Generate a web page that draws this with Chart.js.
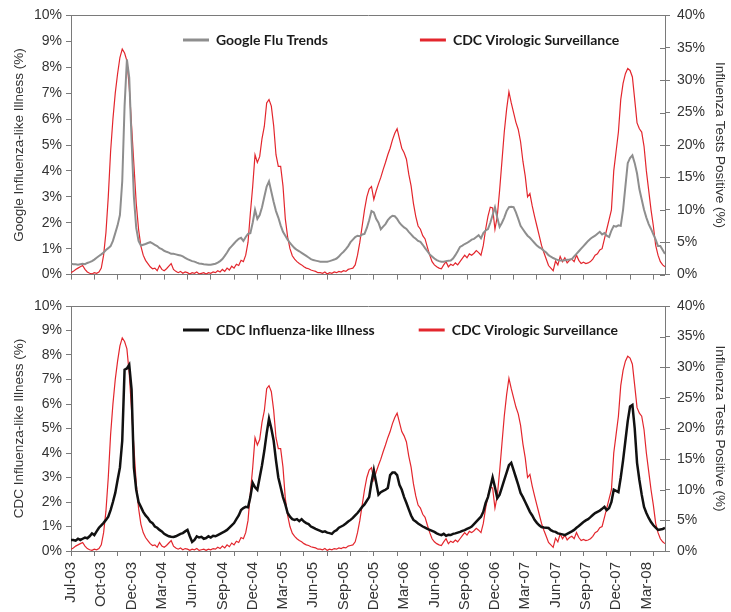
<!DOCTYPE html>
<html>
<head>
<meta charset="utf-8">
<script src="https://cdn.jsdelivr.net/npm/chart.js@4.4.1/dist/chart.umd.min.js"></script>
<style>
  body { margin: 0; background: #fff; }
  canvas { display: block; }
</style>
</head>
<body>
<canvas id="topChart" width="731" height="290"></canvas>
<canvas id="bottomChart" width="731" height="322"></canvas>
<script>
// weekly series, Jul 2003 - May 2008
const tickLabels = ['Jul-03', 'Oct-03', 'Dec-03', 'Mar-04', 'Jun-04', 'Sep-04', 'Dec-04', 'Mar-05', 'Jun-05', 'Sep-05',
    'Dec-05', 'Mar-06', 'Jun-06', 'Sep-06', 'Dec-06', 'Mar-07', 'Jun-07', 'Sep-07', 'Dec-07', 'Mar-08'];

// Google Flu Trends, ILI %
const googleFlu = [
    0.42, 0.40, 0.40, 0.38, 0.40, 0.42, 0.40, 0.45, 0.48, 0.52, 0.58, 0.65, 0.72, 0.78, 0.85, 0.95,
    1.02, 1.1, 1.3, 1.6, 1.9, 2.3, 3.6, 6.5, 8.3, 7.6, 5.2, 3.0, 1.8, 1.3, 1.12, 1.15,
    1.18, 1.22, 1.25, 1.2, 1.15, 1.1, 1.02, 0.98, 0.92, 0.88, 0.85, 0.8, 0.8, 0.78, 0.76, 0.74,
    0.7, 0.65, 0.6, 0.56, 0.52, 0.5, 0.46, 0.43, 0.42, 0.4, 0.39, 0.38, 0.38, 0.4, 0.42, 0.46,
    0.52, 0.6, 0.72, 0.85, 1.0, 1.1, 1.2, 1.3, 1.38, 1.42, 1.3, 1.45, 1.57, 1.6, 2.0, 2.5,
    2.15, 2.3, 2.6, 3.0, 3.4, 3.6, 3.2, 2.8, 2.45, 2.2, 1.9, 1.65, 1.5, 1.35, 1.22, 1.12,
    1.02, 0.95, 0.9, 0.84, 0.78, 0.72, 0.66, 0.6, 0.56, 0.54, 0.52, 0.5, 0.5, 0.5, 0.5, 0.52,
    0.55, 0.58, 0.62, 0.7, 0.8, 0.88, 0.98, 1.1, 1.25, 1.35, 1.45, 1.5, 1.48, 1.55, 1.57, 1.8,
    2.1, 2.45, 2.4, 2.15, 2.0, 1.75, 1.85, 1.95, 2.1, 2.2, 2.27, 2.25, 2.15, 2.0, 1.9, 1.82,
    1.76, 1.65, 1.55, 1.45, 1.38, 1.3, 1.26, 1.15, 1.02, 0.9, 0.78, 0.7, 0.62, 0.56, 0.52, 0.5,
    0.5, 0.52, 0.53, 0.54, 0.62, 0.75, 0.9, 1.07, 1.12, 1.18, 1.22, 1.28, 1.35, 1.38, 1.45, 1.52,
    1.4, 1.6, 1.7, 1.76, 2.0, 2.3, 2.6, 2.2, 1.84, 2.0, 2.2, 2.45, 2.6, 2.62, 2.6, 2.4,
    2.15, 1.88, 1.75, 1.62, 1.5, 1.42, 1.32, 1.22, 1.12, 1.05, 1.0, 0.92, 0.85, 0.75, 0.69, 0.64,
    0.6, 0.56, 0.54, 0.54, 0.55, 0.57, 0.58, 0.6, 0.7, 0.8, 0.9, 1.0, 1.1, 1.2, 1.3, 1.38,
    1.45, 1.5, 1.58, 1.65, 1.55, 1.6, 1.5, 1.45, 1.7, 1.88, 1.85, 1.9, 1.88, 2.5, 3.4, 4.3,
    4.5, 4.6, 4.3, 3.9, 3.3, 2.9, 2.5, 2.2, 1.95, 1.76, 1.55, 1.35, 1.1, 1.1, 0.95, 0.8
];

// CDC virologic surveillance, % of tests positive
const virologic = [
    0.3, 0.5, 0.8, 1.0, 1.2, 1.4, 0.8, 0.4, 0.2, 0.1, 0.3, 0.2, 0.4, 1.0, 3.0, 6.5,
    12, 19, 24, 28, 31, 33.5, 34.8, 34.2, 33, 29, 23, 17, 11, 7, 4.4, 3.0,
    2.2, 1.7, 1.2, 0.9, 1.0, 0.6, 1.4, 0.8, 0.6, 0.9, 1.3, 1.7, 0.8, 0.5, 0.3, 0.5,
    0.2, 0.4, 0.3, 0.1, 0.3, 0.2, 0.4, 0.1, 0.2, 0.3, 0.1, 0.3, 0.2, 0.4, 0.3, 0.6,
    0.4, 0.8, 0.5, 1.0, 0.7, 1.3, 1.0, 1.6, 1.4, 2.2, 2.0, 3.0, 5.0, 9.5, 13.6, 18.5,
    17.3, 18.2, 21, 22.9, 26.5, 27, 26, 23, 18.5, 16.7, 16.7, 13.7, 8.6, 5.8, 4.0, 2.9,
    2.4, 2.0, 1.7, 1.5, 1.2, 1.0, 0.9, 0.7, 0.6, 0.5, 0.3, 0.3, 0.2, 0.4, 0.1, 0.3,
    0.2, 0.4, 0.3, 0.5, 0.4, 0.6, 0.5, 0.8, 0.9, 1.0, 1.5, 3.0, 5.0, 7.5, 10, 12,
    13.2, 13.6, 11.6, 12.9, 14, 15, 16.2, 17.3, 18.5, 19.5, 20.8, 21.8, 22.5, 21, 19.5, 18.8,
    17.8, 15.5, 13.7, 11, 9.0, 7.5, 7.0, 6.0, 5.5, 4.2, 3.0, 2.0, 1.5, 1.2, 1.0, 0.9,
    1.5, 2.0, 1.2, 1.6, 1.4, 1.8, 1.5, 2.0, 2.5, 3.0, 2.6, 3.2, 3.0, 3.3, 3.7, 3.4,
    3.0, 4.5, 7.0, 9.0, 10.4, 10.3, 7.0, 9.0, 13, 17.5, 22, 25.5, 28.2, 26.5, 25, 23.5,
    22.4, 20.5, 17.5, 15.2, 12.0, 12.5, 10.6, 9.0, 7.5, 6.0, 4.5, 3.4, 2.4, 1.4, 1.0, 0.6,
    2.1, 1.5, 2.8, 2.0, 2.6, 1.8, 2.2, 2.4, 2.0, 3.0, 2.2, 1.7, 1.9, 1.7, 1.8, 2.0,
    2.4, 3.0, 3.2, 3.8, 4.0, 5.5, 7.0, 8.5, 10, 16, 19, 22, 27, 29.5, 31, 31.8,
    31.5, 30.5, 27, 23.4, 22.5, 22, 19.8, 16, 13, 10, 7.5, 4.5, 3.0, 2.0, 1.5, 1.2
];

// CDC influenza-like illness, %
const cdcIli = [
    0.45, 0.45, 0.42, 0.5, 0.45, 0.5, 0.55, 0.52, 0.6, 0.72, 0.65, 0.8, 0.95, 1.05, 1.15, 1.27,
    1.4, 1.67, 2.0, 2.37, 2.9, 3.4, 4.5, 7.4, 7.45, 7.6, 6.6, 3.4, 2.5, 2.0, 1.8, 1.6,
    1.45, 1.35, 1.2, 1.14, 1.0, 0.95, 0.86, 0.8, 0.7, 0.65, 0.6, 0.58, 0.57, 0.6, 0.65, 0.7,
    0.73, 0.8, 0.86, 0.6, 0.37, 0.45, 0.6, 0.55, 0.58, 0.5, 0.53, 0.6, 0.55, 0.62, 0.6, 0.65,
    0.7, 0.75, 0.8, 0.86, 0.95, 1.05, 1.14, 1.3, 1.45, 1.67, 1.75, 1.8, 1.78, 2.2, 2.78, 2.6,
    2.5, 3.0, 3.5, 4.1, 4.8, 5.4, 5.0, 4.5, 3.7, 3.0, 2.6, 2.2, 1.9, 1.55, 1.4, 1.3,
    1.27, 1.3, 1.22, 1.3, 1.2, 1.14, 1.1, 1.0, 0.95, 0.9, 0.86, 0.82, 0.78, 0.8, 0.75, 0.73,
    0.7, 0.8, 0.85, 0.95, 1.0, 1.05, 1.12, 1.2, 1.27, 1.35, 1.45, 1.55, 1.67, 1.8, 1.9, 2.05,
    2.2, 2.8, 3.3, 2.8, 2.3, 2.4, 2.45, 2.5, 2.57, 3.1, 3.2, 3.2, 3.1, 2.7, 2.5, 2.2,
    1.96, 1.7, 1.45, 1.27, 1.2, 1.12, 1.06, 1.0, 0.95, 0.9, 0.86, 0.82, 0.78, 0.72, 0.68, 0.65,
    0.7, 0.62, 0.66, 0.65, 0.7, 0.72, 0.75, 0.78, 0.82, 0.85, 0.9, 0.94, 1.0, 1.1, 1.2, 1.3,
    1.4, 1.6, 1.96, 2.2, 2.6, 3.0, 2.6, 2.16, 2.3, 2.6, 2.9, 3.2, 3.5, 3.6, 3.3, 3.0,
    2.7, 2.37, 2.2, 2.0, 1.8, 1.6, 1.45, 1.27, 1.15, 1.05, 0.98, 0.96, 0.95, 0.94, 0.85, 0.8,
    0.78, 0.72, 0.7, 0.68, 0.65, 0.7, 0.75, 0.8, 0.86, 0.95, 1.02, 1.1, 1.18, 1.25, 1.3, 1.38,
    1.47, 1.55, 1.6, 1.65, 1.72, 1.8, 1.67, 1.75, 2.0, 2.5, 2.45, 2.4, 3.0, 3.7, 4.5, 5.3,
    5.9, 5.96, 5.0, 3.6, 2.9, 2.3, 1.8, 1.55, 1.35, 1.18, 1.05, 0.95, 0.86, 0.88, 0.9, 0.94
];

const weeks = virologic.map((_, i) => i);
const LABEL_EVERY = 13;   // a date label every 13 weeks
const TICK_EVERY = 10;    // a tick mark every 10 weeks

const AXIS = '#7a7a7a';
const GRAY = '#8e8e8e';
const RED = '#e3262d';
const BLACK = '#111111';

Chart.defaults.font.family = '"Liberation Sans", Arial, sans-serif';
Chart.defaults.font.size = 14;
Chart.defaults.color = '#333';

// put the legend inside the plot, both entries on one line
function legendSpot(firstX, centerY) {
    return {
        id: 'legendSpot',
        afterLayout(chart) {
            const lg = chart.legend;
            const pad = lg.options.labels.padding;
            lg.maxHeight = 20;   // one entry per column -> entries side by side
            lg.fit();
            lg.left = firstX - pad;
            lg.right = chart.width;
            lg.top = centerY - 7 - pad;
            lg.bottom = lg.top + 2 * pad + 30;
        }
    };
}

// right axis ticks cross the axis line
const crossTicks = {
    id: 'crossTicks',
    afterDraw(chart) {
        const s = chart.scales.y1;
        const ctx = chart.ctx;
        ctx.save();
        ctx.strokeStyle = AXIS;
        ctx.lineWidth = 1;
        s.ticks.forEach(t => {
            const y = Math.round(s.getPixelForValue(t.value)) + 0.5;
            ctx.beginPath();
            ctx.moveTo(s.left - 5, y);
            ctx.lineTo(s.left, y);
            ctx.stroke();
        });
        ctx.restore();
    }
};

function buildScales(leftTitle, withDates) {
    const scales = {
        x: {
            type: 'linear', position: 'bottom', min: 0, max: weeks.length - 1,
            ticks: { display: false, stepSize: TICK_EVERY, autoSkip: false, includeBounds: false },
            grid: { drawOnChartArea: false, tickLength: 5, color: AXIS },
            border: { color: AXIS },
            afterFit: s => { s.height = withDates ? 5 : 14; }
        },
        xTop: {
            type: 'linear', position: 'top', min: 0, max: weeks.length - 1,
            ticks: { display: false },
            grid: { display: false, drawTicks: false },
            border: { color: AXIS },
            afterFit: s => { s.height = 0; }
        },
        y: {
            position: 'left', min: 0, max: 10,
            ticks: { stepSize: 1, padding: 4, callback: v => v + '%' },
            grid: { drawOnChartArea: false, tickLength: 5, color: AXIS },
            border: { color: AXIS },
            title: { display: true, text: leftTitle, font: { size: 13.5 }, padding: { top: 11, bottom: 0 } },
            afterFit: s => { s.width = 71; }
        },
        y1: {
            position: 'right', min: 0, max: 40,
            ticks: { stepSize: 5, padding: 7, callback: v => v + '%' },
            grid: { drawOnChartArea: false, tickLength: 5, color: AXIS },
            border: { color: AXIS },
            title: { display: true, text: 'Influenza Tests Positive (%)', font: { size: 13.5 }, padding: { top: 3, bottom: 0 } },
            afterFit: s => { s.width = 66; }
        }
    };
    if (withDates) {
        scales.xl = {
            type: 'linear', position: 'bottom', min: 0, max: weeks.length - 1,
            ticks: {
                stepSize: LABEL_EVERY, autoSkip: false, includeBounds: false,
                minRotation: 90, maxRotation: 90, padding: 6, font: { size: 15 },
                callback: (v, i) => tickLabels[i]
            },
            grid: { display: false, drawTicks: false },
            border: { display: false },
            afterFit: s => { s.height = 56; }
        };
    }
    return scales;
}

function makeChart(id, datasets, leftTitle, withDates, padTop, legendPad) {
    const ctx = document.getElementById(id).getContext('2d');
    return new Chart(ctx, {
        type: 'line',
        data: { labels: weeks, datasets: datasets },
        options: {
            responsive: false,
            animation: false,
            layout: { padding: { top: padTop, left: 0, right: 0, bottom: 0 } },
            elements: { point: { radius: 0 }, line: { tension: 0 } },
            scales: buildScales(leftTitle, withDates),
            plugins: {
                tooltip: { enabled: false },
                legend: {
                    position: 'chartArea',
                    align: 'start',
                    labels: {
                        boxWidth: 26, boxHeight: 3, padding: legendPad, color: '#1a1a1a',
                        font: { family: 'Lato', weight: 'bold', size: 14 },
                        generateLabels: chart => Chart.defaults.plugins.legend.labels.generateLabels(chart)
                            .map(l => Object.assign(l, { lineWidth: 0 }))
                    }
                }
            }
        },
        plugins: [legendSpot(183, 40), crossTicks]
    });
}

makeChart('topChart', [
    { label: 'Google Flu Trends', data: googleFlu, yAxisID: 'y', borderColor: GRAY, backgroundColor: GRAY, borderWidth: 2 },
    { label: 'CDC Virologic Surveillance', data: virologic, yAxisID: 'y1', borderColor: RED, backgroundColor: RED, borderWidth: 1.2 }
], 'Google Influenza-like Illness (%)', false, 15, 92);

makeChart('bottomChart', [
    { label: 'CDC Influenza-like Illness', data: cdcIli, yAxisID: 'y', borderColor: BLACK, backgroundColor: BLACK, borderWidth: 2.5 },
    { label: 'CDC Virologic Surveillance', data: virologic, yAxisID: 'y1', borderColor: RED, backgroundColor: RED, borderWidth: 1.2 }
], 'CDC Influenza-like Illness (%)', true, 16, 44);
</script>
</body>
</html>
